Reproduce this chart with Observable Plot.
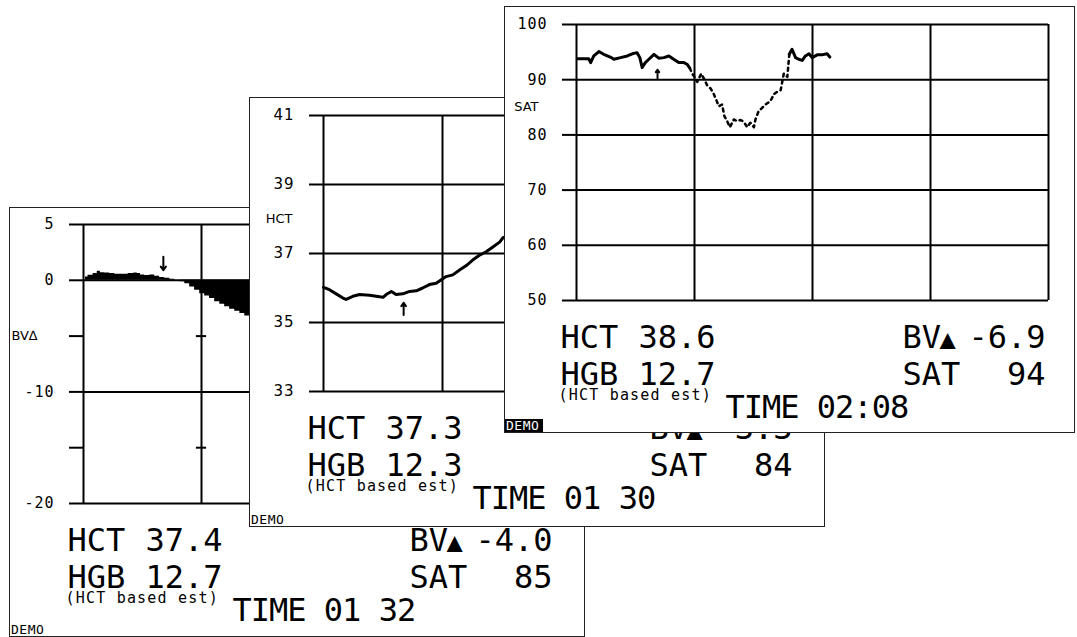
<!DOCTYPE html>
<html><head><meta charset="utf-8">
<script src="https://cdn.jsdelivr.net/npm/d3@7"></script>
<script src="https://cdn.jsdelivr.net/npm/@observablehq/plot@0.6"></script>
<style>
html,body{margin:0;padding:0;background:#fff;}
#stage{position:relative;width:1077px;height:637px;overflow:hidden;background:#fff;}
.panel{position:absolute;background:#fff;border:1.5px solid #222;}
.panel svg{display:block;}
.demo{position:absolute;left:0;bottom:0;font:13px/13px "DejaVu Sans Mono",monospace;letter-spacing:0.5px;padding:0 1px;color:#000;background:#fff;}
.demo.inv{background:#000;color:#fff;padding:0 4px 0 1px;}
g[aria-description="small"] text{letter-spacing:1.2px;}
g[aria-description="time"] text{letter-spacing:-1px;}
g[aria-description="tick"] text{letter-spacing:1px;}
</style>
</head><body><div id="stage"></div>
<script>
// ---- data ----
const gridTimes = [0, 30, 60, 90, 120];

const bvTime  = [0.5,1.8,3.1,3.9,4.7,6.0,7.3,8.6,10.3,12.4,13.2,14.1,14.9,16.2,17.5,18.7,20.0,21.3,22.6,23.8,25.1,26.4,27.6,28.9,30.2,31.4,32.7,34.0,35.3,36.5,37.8,39.1,40.4,41.6,42.9,44.5,46.0,48.0];
const bvValue = [0.3,0.45,0.6,0.8,0.68,0.65,0.6,0.54,0.54,0.6,0.65,0.6,0.48,0.42,0.48,0.36,0.24,0.18,0.09,0,-0.12,-0.3,-0.6,-0.9,-1.2,-1.4,-1.64,-1.93,-2.14,-2.38,-2.6,-2.77,-2.98,-3.2,-3.42,-3.6,-3.8,-4.0];

const hctTime  = [0,1.5,3.2,4.9,5.7,7.4,9.1,11.6,13.3,15.0,15.8,17.1,18.3,20.0,21.7,23.4,25.0,26.7,28.4,29.7,30.9,32.6,34.3,36.0,37.6,39.3,41.0,42.7,44.4,45.2,47.0,49.0];
const hctValue = [36.02,35.95,35.83,35.71,35.67,35.76,35.81,35.79,35.76,35.73,35.81,35.9,35.81,35.83,35.9,35.92,36.0,36.1,36.14,36.24,36.33,36.38,36.52,36.65,36.81,36.95,37.05,37.19,37.33,37.45,37.55,37.7];

const satTime  = [0.2,3.1,3.6,4.4,5.7,6.9,8.6,9.5,11.2,12.9,14.2,15.4,16.1,16.7,17.5,18.4,19.7,20.9,22.2,23.5,24.7,26.0,27.3,28.1,28.8,29.4,30.0,30.7,31.7,32.4,33.2,34.1,34.9,36.2,37.0,37.6,38.3,39.0,40.0,40.8,41.7,42.5,43.4,44.2,45.1,45.5,46.3,47.2,48.0,49.3,50.2,51.0,51.9,52.7,53.6,54.1,54.8,55.7,56.5,57.4,58.2,59.1,59.9,61.2,62.4,63.7,64.4];
const satValue = [93.8,93.8,93.1,94.3,95.1,94.6,94.1,93.7,94.0,94.3,94.7,94.9,94.0,92.2,93.1,93.7,94.6,93.9,94.0,94.3,93.7,93.1,93.1,92.8,92.1,91.1,90.5,89.6,91.1,90.2,89.0,88.4,87.4,85.2,85.5,83.4,82.5,81.4,82.8,82.5,82.7,82.4,81.4,82.2,81.4,82.8,84.3,84.9,85.5,86.1,87.4,87.8,88.1,91.1,90.5,94.6,95.5,94.0,93.7,93.5,94.3,94.7,94.0,94.5,94.5,94.7,94.1];

const bvTicks  = [5, 0, -5, -10, -15, -20];
const bvGrid   = [5, 0, -10, -20];
const bvMinor  = [-5, -15];
const hctTicks = [41, 39, 37, 35, 33];
const satTicks = [100, 90, 80, 70, 60, 50];

const axisNames  = ["BV\u2206", "HCT", "SAT"];
const axisNameAt = [-5, 38, 85];

const readTime = ["01 32", "01 30", "02:08"];
const readHCT  = ["37.4", "37.3", "38.6"];
const readHGB  = ["12.7", "12.3", "12.7"];
const readBV   = ["-4.0", "-3.3", "-6.9"];
const readSAT  = ["85", "84", "94"];
const estNote  = "(HCT based est)";

const markerTime = [20.3, 20.2, 20.6];
const markerFrom = [2.1, 35.22, 90.2];
const markerTo   = [0.9, 35.57, 91.8];

// ---- helpers ----
const zip = (t, v) => t.map((x, i) => ({t: x, v: v[i]}));
const MONO = '"DejaVu Sans Mono", monospace';

function readout(i) {
  const big = (s, dx, dy, anchor, desc, size) => Plot.text([s], {
    text: d => d, frameAnchor: "bottom-left", dx, dy, textAnchor: anchor, lineAnchor: "bottom",
    fontSize: size || 32, fontFamily: MONO, fill: "#000", ariaDescription: desc || "big"
  });
  return [
    big("HCT", -16, 47, "start"), big(readHCT[i], 139, 47, "end"),
    big("HGB", -16, 84, "start"), big(readHGB[i], 139, 84, "end"),
    big("BV", 326, 47, "start"), big("\u25B2", 363, 47, "start", "big", 27), big(readBV[i], 469, 47, "end"),
    big("SAT", 326, 84, "start"), big(readSAT[i], 469, 84, "end"),
    big("TIME " + readTime[i], 149, 117, "start", "time"),
    Plot.text([estNote], {text: d => d, frameAnchor: "bottom-left", dx: -18, dy: 99, textAnchor: "start",
      lineAnchor: "bottom", fontSize: 15, fontFamily: MONO, fill: "#000", ariaDescription: "small"})
  ];
}

function panel(i, cfg) {
  const {left, top, w, h, ml, mt, fw, fh, yDomain, ticks, grid, tickFormat, tickFont, nameDx, series, demoInv} = cfg;
  const wrap = document.createElement("div");
  wrap.className = "panel";
  wrap.style.left = left + "px";
  wrap.style.top = top + "px";
  const plot = Plot.plot({
    width: w, height: h,
    marginLeft: ml, marginTop: mt, marginRight: w - ml - fw, marginBottom: h - mt - fh,
    x: {domain: [0, 120], axis: null},
    y: {domain: yDomain, label: null},
    style: {fontFamily: MONO, background: "white", color: "#000", overflow: "visible"},
    marks: [
      Plot.gridY(grid, {stroke: "#000", strokeOpacity: 1, strokeWidth: 2}),
      Plot.gridX(gridTimes, {stroke: "#000", strokeOpacity: 1, strokeWidth: 2}),
      Plot.axisY(ticks, {tickSize: 14, tickPadding: 15, strokeWidth: 2, fontSize: 15, fontFamily: tickFont,
        tickFormat, label: null, ariaDescription: "tick"}),
      Plot.text([axisNames[i]], {text: d => d, y: () => axisNameAt[i], frameAnchor: "left", dx: -nameDx,
        textAnchor: "end", fontSize: 13, fontFamily: '"DejaVu Sans", sans-serif', fill: "#000"}),
      ...series,
      Plot.arrow([0], {x1: () => markerTime[i], x2: () => markerTime[i], y1: () => markerFrom[i], y2: () => markerTo[i],
        stroke: "#000", strokeWidth: 2, headLength: 6, headAngle: 70}),
      ...readout(i)
    ]
  });
  wrap.appendChild(plot);
  const demo = document.createElement("span");
  demo.className = "demo" + (demoInv ? " inv" : "");
  demo.textContent = "DEMO";
  wrap.appendChild(demo);
  document.getElementById("stage").appendChild(wrap);
}

// ---- panel 1: BV delta ----
const bvData = zip(bvTime, bvValue);
const crosses = d3.cross(gridTimes.slice(1, -1), bvMinor).map(([t, v]) => ({t, v}));
panel(0, {
  left: 9, top: 207, w: 574, h: 428, ml: 73, mt: 16, fw: 472, fh: 279,
  yDomain: [-20, 5], ticks: bvTicks, grid: bvGrid, tickFont: MONO, nameDx: 46,
  tickFormat: d => bvMinor.includes(d) ? "" : String(d),
  series: [
    Plot.areaY(bvData, {x: "t", y: "v", fill: "#000", curve: "step"}),
    Plot.ruleY(crosses, {y: "v", x1: d => d.t - 1.3, x2: d => d.t + 1.3, stroke: "#000", strokeWidth: 2})
  ]
});

// ---- panel 2: HCT ----
panel(1, {
  left: 249, top: 97, w: 574, h: 428, ml: 73, mt: 17, fw: 476, fh: 276,
  yDomain: [33, 41], ticks: hctTicks, grid: hctTicks, tickFont: '"DejaVu Sans", sans-serif', nameDx: 31,
  tickFormat: d => String(d),
  series: [
    Plot.line(zip(hctTime, hctValue), {x: "t", y: "v", stroke: "#000", strokeWidth: 3})
  ]
});

// ---- panel 3: SAT ----
const satData = zip(satTime, satValue);
const low = satValue.map((v, k) => v < 91.5 ? k : -1).filter(k => k >= 0);
const k0 = d3.min(low) - 1, k1 = d3.max(low) + 1;
panel(2, {
  left: 504, top: 6, w: 569, h: 425, ml: 71, mt: 17, fw: 472, fh: 276,
  yDomain: [50, 100], ticks: satTicks, grid: satTicks, tickFont: MONO, nameDx: 38,
  tickFormat: d => String(d), demoInv: true,
  series: [
    Plot.line(satData, {x: "t", y: (d, k) => (k > k0 && k < k1) ? NaN : d.v, stroke: "#000", strokeWidth: 3}),
    Plot.line(satData, {x: "t", y: (d, k) => (k >= k0 && k <= k1) ? d.v : NaN, stroke: "#000", strokeWidth: 2.5,
      strokeDasharray: "3,4"})
  ]
});
</script>
</body></html>
